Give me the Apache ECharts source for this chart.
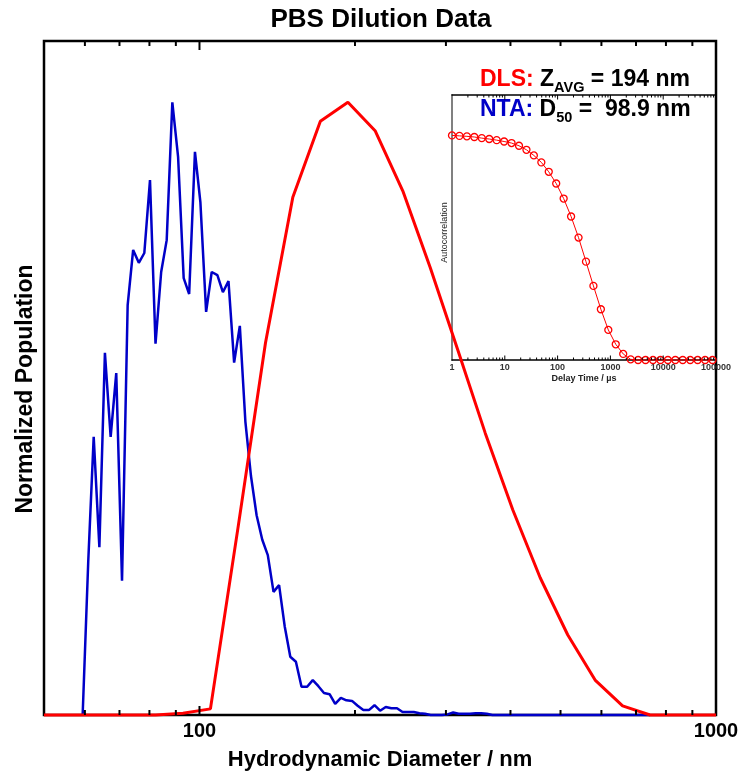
<!DOCTYPE html>
<html><head><meta charset="utf-8">
<script src="https://cdn.jsdelivr.net/npm/echarts@6/dist/echarts.min.js"></script>
<style>html,body{margin:0;padding:0;background:#fff}#c{width:741px;height:774px}</style>
</head><body><div id="c"></div>
<script>
// ---- NTA (blue) ----
const ntaDiameter = [59.4, 60.9, 62.4, 64.0, 65.6, 67.3, 69.0, 70.8, 72.6, 74.4, 76.3, 78.2, 80.2, 82.2, 84.3, 86.4, 88.6, 90.9, 93.2, 95.5, 98.0, 100.4, 103.0, 105.6, 108.3, 111.0, 113.8, 116.7, 119.7, 122.7, 125.8, 129.0, 132.3, 135.6, 139.1, 142.6, 146.2, 149.9, 153.7, 157.6, 161.6, 165.7, 169.9, 174.2, 178.6, 183.1, 187.8, 192.5, 197.4, 202.4, 207.6, 212.8, 218.2, 223.7, 229.4, 235.2, 241.2, 247.3, 253.6, 260.0, 266.6, 273.3, 280.3, 287.4, 294.6, 302.1, 309.8, 317.6, 325.7, 333.9, 342.4, 351.0, 359.9, 369.0, 745];
const ntaPopulation = [0, 0.25, 0.454, 0.274, 0.591, 0.454, 0.558, 0.219, 0.669, 0.759, 0.738, 0.754, 0.873, 0.606, 0.723, 0.775, 1.0, 0.911, 0.713, 0.687, 0.919, 0.837, 0.658, 0.723, 0.718, 0.690, 0.708, 0.575, 0.635, 0.479, 0.390, 0.326, 0.286, 0.261, 0.201, 0.212, 0.145, 0.095, 0.087, 0.046, 0.046, 0.057, 0.047, 0.036, 0.034, 0.018, 0.028, 0.024, 0.023, 0.015, 0.008, 0.008, 0.016, 0.007, 0.013, 0.011, 0.011, 0.005, 0.005, 0.005, 0.003, 0.002, 0, 0, 0, 0.001, 0.004, 0.002, 0.002, 0.002, 0.003, 0.003, 0.002, 0, 0];
// ---- DLS (red) ----
const dlsDiameter = [50, 82.2, 92.9, 105.0, 118.7, 134.2, 151.6, 171.4, 193.8, 219.0, 247.6, 279.8, 316.2, 357.5, 404.1, 456.7, 516.2, 583.4, 659.4, 745.4, 842.5, 952.3, 1000];
const dlsPopulation = [0, 0, 0.003, 0.010, 0.305, 0.607, 0.845, 0.969, 1.0, 0.953, 0.855, 0.730, 0.596, 0.460, 0.335, 0.224, 0.131, 0.057, 0.015, 0, 0, 0, 0];
// ---- Inset autocorrelation ----
const delayTime = [1, 1.384, 1.914, 2.648, 3.664, 5.069, 7.013, 9.70, 13.42, 18.57, 25.7, 35.5, 49.2, 68.0, 94.1, 130.2, 180.1, 249.2, 344.8, 477.0, 660, 913, 1263, 1748, 2418, 3345, 4628, 6403, 8859, 12256, 16956, 23459, 32456, 44903, 62123, 85947];
const autocorrelation = [1.000, 0.998, 0.996, 0.993, 0.988, 0.984, 0.979, 0.973, 0.966, 0.954, 0.936, 0.911, 0.880, 0.838, 0.786, 0.719, 0.639, 0.545, 0.438, 0.330, 0.226, 0.134, 0.070, 0.027, 0.003, 0, 0, 0, 0, 0, 0, 0, 0, 0, 0, 0];
// ---- ticks ----
const mainMinorTicks = [60, 70, 80, 90, 200, 300, 400, 500, 600, 700, 800, 900];
const mainMajorTicks = [100];
const insetMinorTicks = [2,3,4,5,6,7,8,9, 20,30,40,50,60,70,80,90, 200,300,400,500,600,700,800,900, 2000,3000,4000,5000,6000,7000,8000,9000, 20000,30000,40000,50000,60000,70000,80000,90000];
const insetMajorTicks = [10, 100, 1000, 10000];

const FONT = '"Liberation Sans", Arial, Helvetica, sans-serif';
const zip = (a, b) => a.map((v, i) => [v, b[i]]);
const decadeLabel = v => { const l = Math.log10(v); return Math.abs(l - Math.round(l)) < 1e-6 ? String(Math.round(v)) : ''; };

function tickSeries(ticks, xi, yi, len, lw) {
  return {
    type: 'custom', xAxisIndex: xi, yAxisIndex: yi, silent: true, clip: false, z: 6,
    data: ticks.map(v => [v, 0]), encode: {x: 0, y: 1},
    renderItem: function (params, api) {
      const cs = params.coordSys;
      const px = api.coord([api.value(0), 0])[0];
      const b = cs.y + cs.height, t = cs.y;
      return {type: 'group', children: [
        {type: 'line', shape: {x1: px, y1: b, x2: px, y2: b - len}, style: {stroke: '#000', lineWidth: lw}},
        {type: 'line', shape: {x1: px, y1: t, x2: px, y2: t + len}, style: {stroke: '#000', lineWidth: lw}}
      ]};
    }
  };
}

const chart = echarts.init(document.getElementById('c'), null, {renderer: 'canvas'});
const bigRich = (col) => ({fill: col, fontSize: 23, fontWeight: 'bold', fontFamily: FONT, lineHeight: 30});
const subRich = {fill: '#000', fontSize: 14.5, fontWeight: 'bold', fontFamily: FONT, lineHeight: 14, padding: [16, 0, 0, 0]};

chart.setOption({
  animation: false,
  backgroundColor: '#fff',
  grid: [
    {left: 44, right: 25, top: 41, bottom: 59, show: true, borderColor: '#000', borderWidth: 2.5, backgroundColor: 'transparent', containLabel: false, outerBoundsMode: 'none'},
    {left: 452, right: 25, top: 95, bottom: 414, show: false, containLabel: false, outerBoundsMode: 'none'}
  ],
  xAxis: [
    {type: 'log', gridIndex: 0, logBase: 10, min: 50, max: 1000,
     axisLine: {show: false, onZero: false}, axisTick: {show: false}, splitLine: {show: false}, minorTick: {show: false},
     axisLabel: {formatter: decadeLabel, fontSize: 20, fontWeight: 'bold', color: '#000', fontFamily: FONT, margin: 6, showMinLabel: true, showMaxLabel: true},
     name: 'Hydrodynamic Diameter / nm', nameLocation: 'middle', nameGap: 34,
     nameTextStyle: {fontSize: 22, fontWeight: 'bold', color: '#000', fontFamily: FONT}},
    {type: 'log', gridIndex: 1, logBase: 10, min: 1, max: 100000,
     axisLine: {show: true, onZero: false, lineStyle: {color: '#000', width: 1.5}}, axisTick: {show: false}, splitLine: {show: false},
     axisLabel: {formatter: decadeLabel, fontSize: 9, fontWeight: 'bold', color: '#333', fontFamily: FONT, margin: 3},
     name: 'Delay Time / µs', nameLocation: 'middle', nameGap: 14,
     nameTextStyle: {fontSize: 9, fontWeight: 'bold', color: '#222', fontFamily: FONT}},
    {type: 'log', gridIndex: 1, logBase: 10, min: 1, max: 100000, position: 'top',
     axisLine: {show: true, onZero: false, lineStyle: {color: '#000', width: 1.5}}, axisTick: {show: false}, splitLine: {show: false},
     axisLabel: {show: false}}
  ],
  yAxis: [
    {type: 'value', gridIndex: 0, min: 0, max: 1.1,
     axisLine: {show: false, onZero: false}, axisTick: {show: false}, axisLabel: {show: false}, splitLine: {show: false},
     name: 'Normalized Population', nameLocation: 'middle', nameGap: 7,
     nameTextStyle: {fontSize: 23, fontWeight: 'bold', color: '#000', fontFamily: FONT, padding: [0, 22, 0, 0]}},
    {type: 'value', gridIndex: 1, min: 0, max: 1.18,
     axisLine: {show: true, onZero: false, lineStyle: {color: '#808080', width: 2}}, axisTick: {show: false}, axisLabel: {show: false}, splitLine: {show: false},
     name: 'Autocorrelation', nameLocation: 'middle', nameGap: 3,
     nameTextStyle: {fontSize: 9, color: '#222', fontFamily: FONT, padding: [0, 10, 0, 0]}}
  ],
  series: [
    {name: 'NTA', type: 'line', xAxisIndex: 0, yAxisIndex: 0, data: zip(ntaDiameter, ntaPopulation),
     showSymbol: false, symbol: 'none', clip: false, silent: true, z: 3,
     lineStyle: {color: '#0000c8', width: 2.5}},
    {name: 'DLS', type: 'line', xAxisIndex: 0, yAxisIndex: 0, data: zip(dlsDiameter, dlsPopulation),
     showSymbol: false, symbol: 'none', clip: false, silent: true, z: 4,
     lineStyle: {color: '#ff0000', width: 3}},
    {name: 'Autocorrelation', type: 'line', xAxisIndex: 1, yAxisIndex: 1, data: zip(delayTime, autocorrelation),
     symbol: 'circle', symbolSize: 7, showSymbol: true, clip: false, silent: true, z: 5,
     itemStyle: {color: 'rgba(255,255,255,0)', borderColor: '#ff0000', borderWidth: 1.3},
     lineStyle: {color: '#ff0000', width: 1}},
    tickSeries(mainMinorTicks, 0, 0, 5, 2),
    tickSeries(mainMajorTicks, 0, 0, 9, 2),
    tickSeries(insetMinorTicks, 1, 1, 2.5, 1),
    tickSeries(insetMajorTicks, 1, 1, 4.5, 1)
  ],
  graphic: [
    {type: 'text', x: 381, y: 20, silent: true,
     style: {text: 'PBS Dilution Data', fill: '#000', fontSize: 26, fontWeight: 'bold', fontFamily: FONT, align: 'center', verticalAlign: 'middle', textAlign: 'center', textVerticalAlign: 'middle'}},
    {type: 'text', left: 480, top: 64, silent: true,
     style: {text: '{r|DLS: }{k|Z}{s|AVG}{k| = 194 nm}', rich: {r: bigRich('#ff0000'), k: bigRich('#000'), s: subRich}}},
    {type: 'text', left: 480, top: 94, silent: true,
     style: {text: '{b|NTA: }{k|D}{s|50}{k| =  98.9 nm}', rich: {b: bigRich('#0000c8'), k: bigRich('#000'), s: subRich}}}
  ]
});
</script></body></html>
